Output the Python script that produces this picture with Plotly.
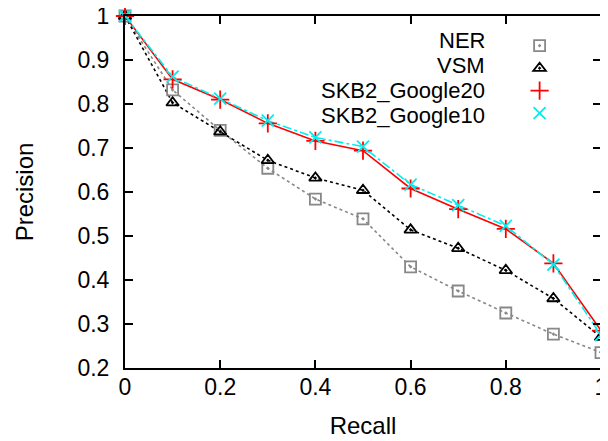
import plotly.graph_objects as go

recall = [0, 0.1, 0.2, 0.3, 0.4, 0.5, 0.6, 0.7, 0.8, 0.9, 1.0]
ner = [1.0, 0.832, 0.74, 0.654, 0.584, 0.539, 0.43, 0.375, 0.325, 0.277, 0.235]
vsm = [1.0, 0.803, 0.737, 0.672, 0.632, 0.604, 0.514, 0.472, 0.422, 0.358, 0.27]
google20 = [1.0, 0.856, 0.81, 0.756, 0.716, 0.694, 0.608, 0.561, 0.516, 0.438, 0.285]
google10 = [1.0, 0.862, 0.812, 0.762, 0.724, 0.703, 0.617, 0.57, 0.523, 0.435, 0.275]
series_names = ["NER", "VSM", "SKB2_Google20", "SKB2_Google10"]
xtick_vals = [0, 0.2, 0.4, 0.6, 0.8, 1.0]
xtick_text = ["0", "0.2", "0.4", "0.6", "0.8", "1"]
ytick_vals = [0.2, 0.3, 0.4, 0.5, 0.6, 0.7, 0.8, 0.9, 1.0]
ytick_text = ["0.2", "0.3", "0.4", "0.5", "0.6", "0.7", "0.8", "0.9", "1"]

FONT = "Liberation Sans, Arial, sans-serif"
styles = [
    dict(color="#888888", dash="dot", symbol="square-open-dot", size=11),
    dict(color="#000000", dash="3px,3px", symbol="triangle-up-open-dot", size=11),
    dict(color="#ff0000", dash="solid", symbol="cross-thin-open", size=13),
    dict(color="#00eeee", dash="dashdot", symbol="x-thin-open", size=12),
]
data = [ner, vsm, google20, google10]

fig = go.Figure()
# lines
for ys, st in zip(data, styles):
    fig.add_trace(go.Scatter(x=recall, y=ys, mode="lines", showlegend=False,
                             line=dict(color=st["color"], dash=st["dash"], width=1.6),
                             cliponaxis=False, hoverinfo="skip"))
# markers (legend shows only points)
for ys, st, nm in zip(data, styles, series_names):
    fig.add_trace(go.Scatter(x=recall, y=ys, mode="markers", name=" ",
                             marker=dict(symbol=st["symbol"], size=st["size"], color=st["color"],
                                         line=dict(color=st["color"], width=1.8)),
                             cliponaxis=False))

ann_y = [0.930, 0.859, 0.788, 0.717]
for nm, yy in zip(series_names, ann_y):
    fig.add_annotation(text=nm, x=0.76, y=yy, xref="paper", yref="paper",
                       xanchor="right", yanchor="middle", showarrow=False,
                       font=dict(family=FONT, size=22, color="black"))

axis_common = dict(showline=True, linecolor="black", linewidth=2, mirror="ticks",
                   ticks="inside", ticklen=8, tickwidth=1.5, tickcolor="black",
                   showgrid=False, zeroline=False, automargin=False,
                   ticklabeloverflow="allow",
                   tickfont=dict(family=FONT, size=23, color="black"),
                   title_font=dict(family=FONT, size=24, color="black"))

fig.update_xaxes(range=[0, 1], tickvals=xtick_vals, ticktext=xtick_text,
                 title_text="Recall", title_standoff=19, ticklabelstandoff=-3,
                 **axis_common)
fig.update_yaxes(range=[0.2, 1], tickvals=ytick_vals, ticktext=ytick_text,
                 title_text="Precision", title_standoff=37, ticklabelstandoff=9,
                 **axis_common)

# the page body adds an 8px offset, so the figure is 600x433 placed at (8,8)
fig.update_layout(
    width=600, height=433,
    margin=dict(l=117, r=7, t=8, b=73),
    plot_bgcolor="white", paper_bgcolor="white",
    font=dict(family=FONT, size=23, color="black"),
    legend=dict(x=0.829, y=0.962, xanchor="left", yanchor="top",
                bgcolor="rgba(0,0,0,0)", font=dict(family=FONT, size=15),
                tracegroupgap=0, itemwidth=30),
)

fig.write_html("out.html")
